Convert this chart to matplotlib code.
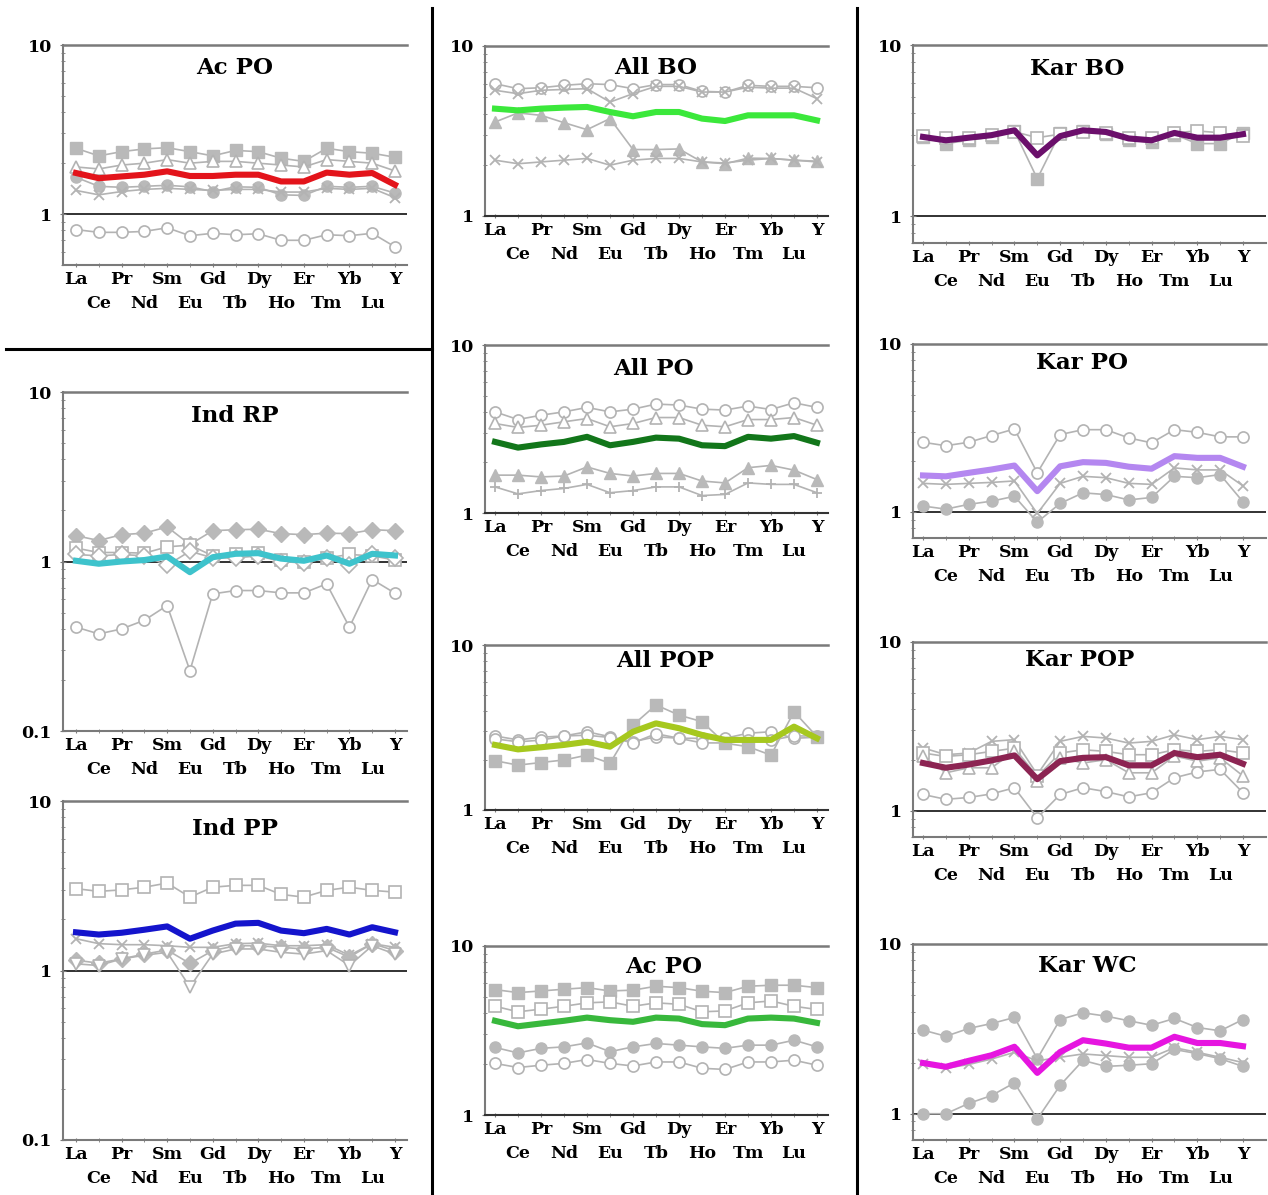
import numpy as np
import matplotlib.pyplot as plt
from matplotlib.lines import Line2D
from matplotlib.ticker import FixedLocator, LogLocator, NullFormatter

elements = ['La', 'Ce', 'Pr', 'Nd', 'Sm', 'Eu', 'Gd', 'Tb', 'Dy', 'Ho', 'Er', 'Tm', 'Yb', 'Lu', 'Y']

# --- Ac PO (left column)
acpo1_sq = [2.45, 2.21, 2.34, 2.43, 2.47, 2.34, 2.21, 2.38, 2.34, 2.14, 2.05, 2.45, 2.34, 2.29, 2.17]
acpo1_open = [1.9, 1.85, 1.95, 2.0, 2.1, 2.0, 2.05, 2.05, 2.0, 1.95, 1.9, 2.1, 2.05, 2.0, 1.8]
acpo1_circ = [1.65, 1.46, 1.44, 1.46, 1.48, 1.45, 1.36, 1.45, 1.44, 1.30, 1.29, 1.46, 1.44, 1.46, 1.33]
acpo1_x = [1.38, 1.30, 1.36, 1.40, 1.42, 1.40, 1.38, 1.40, 1.40, 1.35, 1.35, 1.42, 1.40, 1.42, 1.25]
acpo1_circ_open = [0.81, 0.78, 0.78, 0.79, 0.83, 0.745, 0.77, 0.755, 0.765, 0.70, 0.70, 0.755, 0.745, 0.77, 0.64]
acpo1_mean = [1.75, 1.63, 1.67, 1.71, 1.79, 1.68, 1.68, 1.71, 1.71, 1.56, 1.56, 1.76, 1.71, 1.75, 1.49]

# --- Ind RP
indrp_dia = [1.42, 1.33, 1.44, 1.47, 1.60, 1.26, 1.52, 1.54, 1.55, 1.46, 1.44, 1.47, 1.46, 1.54, 1.52]
indrp_sq_open = [1.2, 1.13, 1.13, 1.12, 1.22, 1.25, 1.08, 1.1, 1.12, 1.02, 1.0, 1.05, 1.1, 1.08, 1.02]
indrp_dia_open = [1.1, 1.08, 1.1, 1.08, 0.95, 1.15, 1.05, 1.05, 1.08, 1.0, 0.98, 1.05, 0.95, 1.1, 1.05]
indrp_circ_open = [0.41, 0.374, 0.40, 0.45, 0.55, 0.227, 0.644, 0.674, 0.674, 0.653, 0.653, 0.738, 0.41, 0.783, 0.65]
indrp_mean = [1.01, 0.97, 1.0, 1.02, 1.07, 0.865, 1.06, 1.11, 1.12, 1.04, 1.01, 1.085, 0.97, 1.11, 1.085]

# --- Ind PP
indpp_sq_open = [3.04, 2.93, 2.99, 3.10, 3.28, 2.71, 3.10, 3.18, 3.18, 2.81, 2.71, 2.97, 3.10, 2.97, 2.90]
indpp_x = [1.54, 1.44, 1.42, 1.42, 1.40, 1.37, 1.37, 1.44, 1.45, 1.40, 1.40, 1.42, 1.23, 1.44, 1.37]
indpp_dia = [1.15, 1.105, 1.17, 1.25, 1.32, 1.10, 1.31, 1.40, 1.40, 1.37, 1.34, 1.37, 1.20, 1.44, 1.31]
indpp_tri_open = [1.095, 1.07, 1.17, 1.23, 1.28, 0.80, 1.25, 1.34, 1.34, 1.28, 1.25, 1.31, 1.07, 1.40, 1.25]
indpp_mean = [1.68, 1.63, 1.67, 1.74, 1.82, 1.54, 1.72, 1.89, 1.91, 1.72, 1.66, 1.76, 1.63, 1.80, 1.68]

# --- All BO
allbo_circ_open = [6.0, 5.61, 5.68, 5.87, 6.0, 5.93, 5.61, 5.93, 5.93, 5.41, 5.36, 5.87, 5.79, 5.79, 5.68]
allbo_x_high = [5.49, 5.24, 5.49, 5.55, 5.61, 4.68, 5.24, 5.79, 5.79, 5.36, 5.36, 5.72, 5.65, 5.65, 4.9]
allbo_tri = [3.57, 4.04, 3.91, 3.54, 3.22, 3.74, 2.46, 2.46, 2.48, 2.08, 2.03, 2.19, 2.18, 2.13, 2.10]
allbo_x_low = [2.13, 2.03, 2.08, 2.13, 2.18, 1.99, 2.13, 2.18, 2.18, 2.08, 2.05, 2.13, 2.18, 2.13, 2.08]
allbo_mean = [4.28, 4.18, 4.28, 4.34, 4.38, 4.09, 3.86, 4.09, 4.09, 3.74, 3.62, 3.91, 3.91, 3.91, 3.65]

# --- All PO
allpo_circ_open = [4.0, 3.6, 3.82, 4.0, 4.25, 4.0, 4.15, 4.45, 4.39, 4.15, 4.1, 4.33, 4.13, 4.53, 4.25]
allpo_tri_open = [3.41, 3.23, 3.33, 3.49, 3.65, 3.26, 3.41, 3.70, 3.70, 3.33, 3.26, 3.60, 3.60, 3.70, 3.33]
allpo_tri = [1.68, 1.68, 1.64, 1.66, 1.88, 1.72, 1.66, 1.72, 1.72, 1.55, 1.51, 1.86, 1.92, 1.80, 1.58]
allpo_plus = [1.43, 1.30, 1.36, 1.40, 1.48, 1.32, 1.36, 1.43, 1.43, 1.27, 1.29, 1.51, 1.48, 1.48, 1.32]
allpo_mean = [2.65, 2.45, 2.56, 2.65, 2.84, 2.53, 2.65, 2.81, 2.77, 2.53, 2.50, 2.84, 2.77, 2.87, 2.62]

# --- All POP
allpop_circ_open = [2.81, 2.66, 2.76, 2.81, 2.98, 2.78, 2.59, 2.78, 2.72, 2.72, 2.72, 2.92, 2.98, 2.72, 2.76]
allpop_open2 = [2.70, 2.59, 2.65, 2.81, 2.84, 2.75, 2.55, 2.90, 2.72, 2.55, 2.55, 2.65, 2.65, 2.81, 2.81]
allpop_sq = [1.99, 1.87, 1.94, 2.01, 2.15, 1.92, 3.27, 4.33, 3.76, 3.43, 2.54, 2.42, 2.15, 3.94, 2.78]
allpop_mean = [2.48, 2.33, 2.40, 2.48, 2.59, 2.42, 2.98, 3.35, 3.13, 2.85, 2.66, 2.66, 2.66, 3.20, 2.72]

# --- Ac PO (middle column)
acpo2_sq = [5.52, 5.30, 5.42, 5.55, 5.67, 5.42, 5.48, 5.78, 5.67, 5.40, 5.30, 5.78, 5.86, 5.86, 5.67]
acpo2_sq_open = [4.4, 4.08, 4.23, 4.4, 4.61, 4.67, 4.4, 4.61, 4.52, 4.08, 4.13, 4.61, 4.73, 4.4, 4.21]
acpo2_circ = [2.51, 2.33, 2.48, 2.53, 2.67, 2.37, 2.53, 2.65, 2.59, 2.53, 2.48, 2.59, 2.59, 2.77, 2.53]
acpo2_circ_open = [2.02, 1.91, 1.97, 2.02, 2.13, 2.02, 1.95, 2.06, 2.06, 1.89, 1.86, 2.06, 2.06, 2.11, 1.97]
acpo2_mean = [3.61, 3.35, 3.48, 3.61, 3.77, 3.64, 3.56, 3.77, 3.72, 3.45, 3.40, 3.72, 3.77, 3.72, 3.51]

# --- Kar BO
karbo_sq = [2.91, 2.66, 2.78, 2.91, 3.15, 1.66, 3.08, 3.15, 3.04, 2.78, 2.72, 3.0, 2.66, 2.66, 3.08]
karbo_sq_open = [2.94, 2.85, 2.88, 2.98, 3.12, 2.88, 3.02, 3.12, 3.08, 2.88, 2.85, 3.08, 3.15, 3.08, 2.94]
karbo_mean = [2.91, 2.78, 2.88, 2.98, 3.18, 2.27, 2.94, 3.18, 3.11, 2.85, 2.78, 3.07, 2.88, 2.88, 3.02]

# --- Kar PO
karpo_circ_open = [2.60, 2.48, 2.60, 2.85, 3.12, 1.71, 2.89, 3.09, 3.09, 2.76, 2.58, 3.09, 2.98, 2.80, 2.80]
karpo_x = [1.48, 1.46, 1.48, 1.50, 1.53, 0.98, 1.48, 1.63, 1.60, 1.48, 1.46, 1.83, 1.78, 1.78, 1.43]
karpo_circ = [1.085, 1.04, 1.11, 1.16, 1.24, 0.87, 1.125, 1.30, 1.27, 1.18, 1.22, 1.63, 1.60, 1.67, 1.15]
karpo_mean = [1.65, 1.63, 1.71, 1.79, 1.89, 1.33, 1.87, 1.98, 1.96, 1.86, 1.81, 2.15, 2.10, 2.10, 1.86]

# --- Kar POP
karpop_x = [2.36, 2.15, 2.20, 2.58, 2.64, 1.64, 2.58, 2.76, 2.70, 2.52, 2.58, 2.82, 2.64, 2.76, 2.64]
karpop_sq = [2.20, 2.10, 2.15, 2.25, 2.35, 1.60, 2.20, 2.30, 2.25, 2.15, 2.15, 2.30, 2.25, 2.30, 2.20]
karpop_tri = [2.11, 1.68, 1.80, 1.80, 2.25, 1.50, 2.06, 1.92, 2.01, 1.68, 1.68, 2.11, 1.97, 2.06, 1.61]
karpop_circ_open = [1.25, 1.17, 1.20, 1.26, 1.37, 0.91, 1.25, 1.37, 1.30, 1.21, 1.28, 1.57, 1.70, 1.76, 1.28]
karpop_mean = [1.92, 1.80, 1.88, 1.99, 2.13, 1.54, 1.97, 2.06, 2.08, 1.86, 1.86, 2.20, 2.08, 2.15, 1.90]

# --- Kar WC
karwc_circ = [3.11, 2.86, 3.18, 3.40, 3.69, 2.11, 3.59, 3.93, 3.76, 3.53, 3.32, 3.64, 3.22, 3.08, 3.59]
karwc_x = [1.95, 1.85, 1.95, 2.10, 2.30, 2.05, 2.15, 2.25, 2.20, 2.15, 2.15, 2.45, 2.30, 2.15, 2.00]
karwc_circ_low = [1.0, 1.0, 1.15, 1.28, 1.52, 0.93, 1.47, 2.06, 1.90, 1.93, 1.97, 2.39, 2.26, 2.11, 1.90]
karwc_mean = [1.99, 1.89, 2.05, 2.21, 2.48, 1.74, 2.31, 2.71, 2.59, 2.45, 2.45, 2.84, 2.61, 2.61, 2.50]

W, H = 1268, 1195
GRAY = '#b3b3b3'
SPINE = '#7a7a7a'

fig = plt.figure(figsize=(W / 100, H / 100), dpi=100)

# columns: axes left/right px and first/last category px
cols = {'L': (63, 407, 76, 395), 'M': (485, 828, 495, 817), 'R': (913, 1266, 923, 1243)}

# title, column, top px, bottom px, ymin, title x/y (axes frac), grey series, mean, colour
panels = [
    ('Ac PO', 'L', 45, 265, 0.5, 0.5, 0.895,
     [(acpo1_sq, 's', True), (acpo1_open, '^', False), (acpo1_circ, 'o', True),
      (acpo1_x, 'x', True), (acpo1_circ_open, 'o', False)], acpo1_mean, '#e3141b'),
    ('Ind RP', 'L', 392, 731, 0.1, 0.5, 0.929,
     [(indrp_dia, 'D', True), (indrp_sq_open, 's', False), (indrp_dia_open, 'D', False),
      (indrp_circ_open, 'o', False)], indrp_mean, '#3ec3cc'),
    ('Ind PP', 'L', 801, 1140, 0.1, 0.5, 0.917,
     [(indpp_sq_open, 's', False), (indpp_x, 'x', True), (indpp_dia, 'D', True),
      (indpp_tri_open, 'v', False)], indpp_mean, '#1414cc'),
    ('All BO', 'M', 46, 216, 1.0, 0.496, 0.87,
     [(allbo_circ_open, 'o', False), (allbo_x_high, 'x', True), (allbo_tri, '^', True),
      (allbo_x_low, 'x', True)], allbo_mean, '#3be83b'),
    ('All PO', 'M', 345, 513, 1.0, 0.49, 0.857,
     [(allpo_circ_open, 'o', False), (allpo_tri_open, '^', False), (allpo_tri, '^', True),
      (allpo_plus, '+', True)], allpo_mean, '#12761a'),
    ('All POP', 'M', 645, 810, 1.0, 0.525, 0.903,
     [(allpop_circ_open, 'o', False), (allpop_open2, 'o', False), (allpop_sq, 's', True)],
     allpop_mean, '#a6c81e'),
    ('Ac PO', 'M', 946, 1115, 1.0, 0.52, 0.876,
     [(acpo2_sq, 's', True), (acpo2_sq_open, 's', False), (acpo2_circ, 'o', True),
      (acpo2_circ_open, 'o', False)], acpo2_mean, '#38b83c'),
    ('Kar BO', 'R', 45, 243, 0.7, 0.465, 0.879,
     [(karbo_sq, 's', True), (karbo_sq_open, 's', False)], karbo_mean, '#6b0f6b'),
    ('Kar PO', 'R', 344, 538, 0.7, 0.48, 0.902,
     [(karpo_circ_open, 'o', False), (karpo_x, 'x', True), (karpo_circ, 'o', True)],
     karpo_mean, '#b487f0'),
    ('Kar POP', 'R', 642, 837, 0.7, 0.473, 0.908,
     [(karpop_x, 'x', True), (karpop_sq, 's', False), (karpop_tri, '^', False),
      (karpop_circ_open, 'o', False)], karpop_mean, '#8c2452'),
    ('Kar WC', 'R', 944, 1140, 0.7, 0.493, 0.888,
     [(karwc_circ, 'o', True), (karwc_x, 'x', True), (karwc_circ_low, 'o', True)],
     karwc_mean, '#e615e0'),
]

x = np.arange(len(elements))
tickfont = dict(family='DejaVu Serif', weight='bold', size=12.5)

for title, col, top, bottom, ymin, tx, ty, greys, mean, color in panels:
    left, right, xf, xl = cols[col]
    ax = fig.add_axes([left / W, 1 - bottom / H, (right - left) / W, (bottom - top) / H])
    step = (xl - xf) / 14
    ax.set_xlim(-(xf - left) / step, 14 + (right - xl) / step)
    ax.set_yscale('log')
    ax.set_ylim(ymin, 10)

    for vals, mk, filled in greys:
        if mk in ('x', '+'):
            ax.plot(x, vals, color=GRAY, lw=1.2, marker=mk, ms=7, mew=1.3, zorder=2)
        elif filled:
            ax.plot(x, vals, color=GRAY, lw=1.2, marker=mk, ms=8, mfc='#b9b9b9',
                    mec='#b9b9b9', zorder=2)
        else:
            ax.plot(x, vals, color=GRAY, lw=1.2, marker=mk, ms=8, mfc='white',
                    mec=GRAY, mew=1.2, zorder=2)
    ax.plot(x, mean, color=color, lw=4.4, solid_joinstyle='round', zorder=4)

    ax.axhline(1, color='#222222', lw=1.3, zorder=1)

    ax.spines['right'].set_visible(False)
    ax.spines['top'].set_color(SPINE)
    ax.spines['top'].set_linewidth(1.8)
    ax.spines['left'].set_color(SPINE)
    ax.spines['left'].set_linewidth(1.5)
    ax.spines['bottom'].set_color(SPINE if ymin < 1 else '#333333')
    ax.spines['bottom'].set_linewidth(1.5)

    majors = [v for v in (0.1, 1, 10) if v >= ymin]
    ax.yaxis.set_major_locator(FixedLocator(majors))
    ax.set_yticklabels([('%g' % v) for v in majors], fontdict=tickfont)
    ax.yaxis.set_minor_locator(LogLocator(base=10, subs=np.arange(2, 10)))
    ax.yaxis.set_minor_formatter(NullFormatter())
    ax.tick_params(axis='y', which='major', length=4, direction='inout', color=SPINE, pad=6)
    ax.tick_params(axis='y', which='minor', length=3, direction='inout', color=SPINE)

    # element labels on two staggered rows
    ax.set_xticks(x[::2])
    ax.set_xticklabels(elements[::2], fontdict=tickfont)
    ax.set_xticks(x[1::2], minor=True)
    ax.set_xticklabels(elements[1::2], minor=True, fontdict=tickfont)
    ax.tick_params(axis='x', which='major', length=3, direction='inout', color=SPINE, pad=3)
    ax.tick_params(axis='x', which='minor', length=3, direction='inout', color=SPINE, pad=20)

    ax.text(tx, ty, title, transform=ax.transAxes, ha='center', va='center',
            family='DejaVu Serif', weight='bold', fontsize=16.5)

# panel separators
fig.add_artist(Line2D([432 / W, 432 / W], [1 - 8 / H, 0], color='black', lw=2.2))
fig.add_artist(Line2D([857 / W, 857 / W], [1 - 8 / H, 0], color='black', lw=2.2))
fig.add_artist(Line2D([6 / W, 432 / W], [1 - 349 / H, 1 - 349 / H], color='black', lw=2.2))

fig.savefig('out.png', dpi=100, facecolor='white')
